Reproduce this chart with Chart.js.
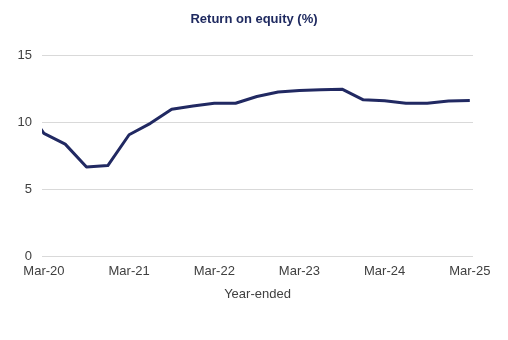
<!DOCTYPE html>
<html lang="en">
<head>
  <meta charset="UTF-8">
  <title>Return on equity</title>
  <script src="https://cdn.jsdelivr.net/npm/chart.js"></script>
  <style>
    html, body { margin: 0; padding: 0; background: #fff; }
  </style>
</head>
<body>
  <canvas id="roeChart" width="508" height="340"></canvas>

  <script>
    // Quarterly return on equity, Dec-19 to Mar-25 (index 0 = Mar-20)
    const quarters = ['Dec-19', 'Mar-20', 'Jun-20', 'Sep-20', 'Dec-20', 'Mar-21', 'Jun-21', 'Sep-21', 'Dec-21',
                      'Mar-22', 'Jun-22', 'Sep-22', 'Dec-22', 'Mar-23', 'Jun-23', 'Sep-23', 'Dec-23',
                      'Mar-24', 'Jun-24', 'Sep-24', 'Dec-24', 'Mar-25'];
    const roeValues = [11.5, 9.2, 8.4, 6.7, 6.8, 9.1, 9.95, 11.0, 11.25,
                       11.45, 11.45, 11.95, 12.28, 12.4, 12.45, 12.5, 11.7,
                       11.63, 11.45, 11.45, 11.62, 11.65];
    const tickPositions = [0, 4, 8, 12, 16, 20];
    const tickLabels = ['Mar-20', 'Mar-21', 'Mar-22', 'Mar-23', 'Mar-24', 'Mar-25'];

    const points = roeValues.map((v, i) => ({ x: i - 1, y: v }));
    const font = { family: 'Liberation Sans, Arial, sans-serif', size: 13 };

    const ctx = document.getElementById('roeChart').getContext('2d');
    new Chart(ctx, {
      type: 'line',
      data: {
        datasets: [{
          label: 'Return on equity',
          data: points,
          borderColor: '#212962',
          borderWidth: 3,
          borderJoinStyle: 'round',
          pointRadius: 0,
          tension: 0,
          clip: 0
        }]
      },
      options: {
        responsive: false,
        animation: false,
        layout: { padding: { left: 0, right: 0, top: 0, bottom: 38 } },
        plugins: {
          legend: { display: false },
          tooltip: { enabled: false },
          title: {
            display: true,
            text: 'Return on equity (%)',
            color: '#1f2a60',
            font: { family: font.family, size: 13, weight: 'bold' },
            padding: { top: 12, bottom: 28 }
          }
        },
        scales: {
          x: {
            type: 'linear',
            min: -0.09,
            max: 20.15,
            grid: { display: false, drawTicks: false },
            border: { display: false },
            afterBuildTicks: axis => { axis.ticks = tickPositions.map(v => ({ value: v })); },
            ticks: {
              color: '#404040',
              font: font,
              padding: 7,
              maxRotation: 0,
              autoSkip: false,
              callback: v => tickLabels[tickPositions.indexOf(v)]
            },
            title: {
              display: true,
              text: 'Year-ended',
              color: '#404040',
              font: font,
              padding: { top: 0, bottom: 0 }
            }
          },
          y: {
            min: 0,
            max: 15,
            afterFit: axis => { axis.width = 42; },
            grid: { color: '#d9d9d9', drawTicks: false },
            border: { display: false },
            ticks: { stepSize: 5, color: '#404040', font: font, padding: 10 }
          },
          // empty right-hand gutter so the title stays centred on the page
          gutter: {
            type: 'linear',
            position: 'right',
            afterFit: axis => { axis.width = 35; },
            grid: { display: false, drawTicks: false },
            border: { display: false },
            ticks: { display: false }
          }
        }
      }
    });
  </script>
</body>
</html>
